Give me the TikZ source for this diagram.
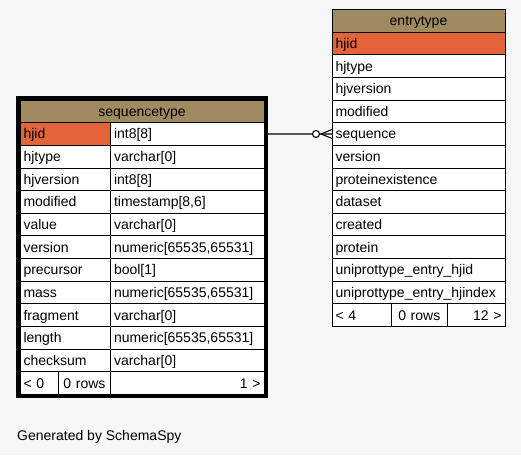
\documentclass[tikz,border=0pt]{standalone}
\usepackage{fontspec}
\setmainfont{Liberation Sans}
\usetikzlibrary{fit}
\definecolor{canvas}{HTML}{F7F7F7}
\definecolor{headtan}{HTML}{A08A60}
\definecolor{keyred}{HTML}{E3643B}
\begin{document}
\begin{tikzpicture}[x=1pt, y=-1pt,
  cell/.style={draw, line width=0.9pt, fill=white, outer sep=0pt, inner xsep=3.5pt, inner ysep=0pt, minimum height=22.65pt, text height=10pt, text depth=0pt, anchor=north west, align=left, font=\fontsize{14}{16}\selectfont},
  sqtitle/.style={cell, fill=headtan, text width=237pt, align=center},
  sqname/.style={cell, text width=83.5pt},
  sqkey/.style={sqname, fill=keyred},
  sqtype/.style={cell, text width=146.5pt},
  sqfootl/.style={cell, text width=31.5pt},
  sqfootm/.style={cell, text width=45pt, align=center},
  sqfootr/.style={cell, text width=146.5pt, align=right},
  ettitle/.style={cell, fill=headtan, text width=166pt, align=center},
  etname/.style={cell, text width=166pt},
  etkey/.style={etname, fill=keyred},
  etfootl/.style={cell, text width=52.5pt},
  etfootm/.style={cell, text width=48.5pt, align=center},
  etfootr/.style={cell, text width=51pt, align=right},
  frame/.style={draw, line width=4pt, inner sep=2pt},
  link/.style={line width=1.1pt},
  ring/.style={circle, draw, line width=1.1pt, fill=white, minimum size=7pt, inner sep=0pt}
]
\fill[canvas] (0,0) rectangle (521,455);
\useasboundingbox (0,0) rectangle (521,455);

\node[sqtitle] (sq-title) at (20,100) {sequencetype};
\node[sqkey] (sq-hjid) at (sq-title.south west) {hjid};
\node[sqname] (sq-hjtype) at (sq-hjid.south west) {hjtype};
\node[sqname] (sq-hjversion) at (sq-hjtype.south west) {hjversion};
\node[sqname] (sq-modified) at (sq-hjversion.south west) {modified};
\node[sqname] (sq-value) at (sq-modified.south west) {value};
\node[sqname] (sq-version) at (sq-value.south west) {version};
\node[sqname] (sq-precursor) at (sq-version.south west) {precursor};
\node[sqname] (sq-mass) at (sq-precursor.south west) {mass};
\node[sqname] (sq-fragment) at (sq-mass.south west) {fragment};
\node[sqname] (sq-length) at (sq-fragment.south west) {length};
\node[sqname] (sq-checksum) at (sq-length.south west) {checksum};
\node[sqtype] (sq-hjid-t) at (sq-hjid.north east) {int8[8]};
\node[sqtype] (sq-hjtype-t) at (sq-hjtype.north east) {varchar[0]};
\node[sqtype] (sq-hjversion-t) at (sq-hjversion.north east) {int8[8]};
\node[sqtype] (sq-modified-t) at (sq-modified.north east) {timestamp[8,6]};
\node[sqtype] (sq-value-t) at (sq-value.north east) {varchar[0]};
\node[sqtype] (sq-version-t) at (sq-version.north east) {numeric[65535,65531]};
\node[sqtype] (sq-precursor-t) at (sq-precursor.north east) {bool[1]};
\node[sqtype] (sq-mass-t) at (sq-mass.north east) {numeric[65535,65531]};
\node[sqtype] (sq-fragment-t) at (sq-fragment.north east) {varchar[0]};
\node[sqtype] (sq-length-t) at (sq-length.north east) {numeric[65535,65531]};
\node[sqtype] (sq-checksum-t) at (sq-checksum.north east) {varchar[0]};
\node[sqfootl] (sq-foot-l) at (sq-checksum.south west) {< 0};
\node[sqfootm] (sq-foot-m) at (sq-foot-l.north east) {0 rows};
\node[sqfootr] (sq-foot-r) at (sq-foot-m.north east) {1 >};
\node[frame, fit=(sq-title)(sq-foot-r)] (sq-frame) {};

\node[ettitle] (et-title) at (332,9.4) {entrytype};
\node[etkey] (et-hjid) at (et-title.south west) {hjid};
\node[etname] (et-hjtype) at (et-hjid.south west) {hjtype};
\node[etname] (et-hjversion) at (et-hjtype.south west) {hjversion};
\node[etname] (et-modified) at (et-hjversion.south west) {modified};
\node[etname] (et-sequence) at (et-modified.south west) {sequence};
\node[etname] (et-version) at (et-sequence.south west) {version};
\node[etname] (et-proteinexistence) at (et-version.south west) {proteinexistence};
\node[etname] (et-dataset) at (et-proteinexistence.south west) {dataset};
\node[etname] (et-created) at (et-dataset.south west) {created};
\node[etname] (et-protein) at (et-created.south west) {protein};
\node[etname] (et-uniprot-hjid) at (et-protein.south west) {uniprottype\_entry\_hjid};
\node[etname] (et-uniprot-hjindex) at (et-uniprot-hjid.south west) {uniprottype\_entry\_hjindex};
\node[etfootl] (et-foot-l) at (et-uniprot-hjindex.south west) {< 4};
\node[etfootm] (et-foot-m) at (et-foot-l.north east) {0 rows};
\node[etfootr] (et-foot-r) at (et-foot-m.north east) {12 >};

\draw[link] (sq-hjid-t.east) -- (et-sequence.west);
\draw[link] ([xshift=-11pt]et-sequence.west) -- ([yshift=4.5pt]et-sequence.west);
\draw[link] ([xshift=-11pt]et-sequence.west) -- ([yshift=-4.5pt]et-sequence.west);
\node[ring] (link-ring) at ([xshift=-16pt]et-sequence.west) {};

\node[anchor=base west, inner sep=0pt, font=\fontsize{14}{16}\selectfont] (credit) at (17,440) {Generated by SchemaSpy};
\end{tikzpicture}
\end{document}
